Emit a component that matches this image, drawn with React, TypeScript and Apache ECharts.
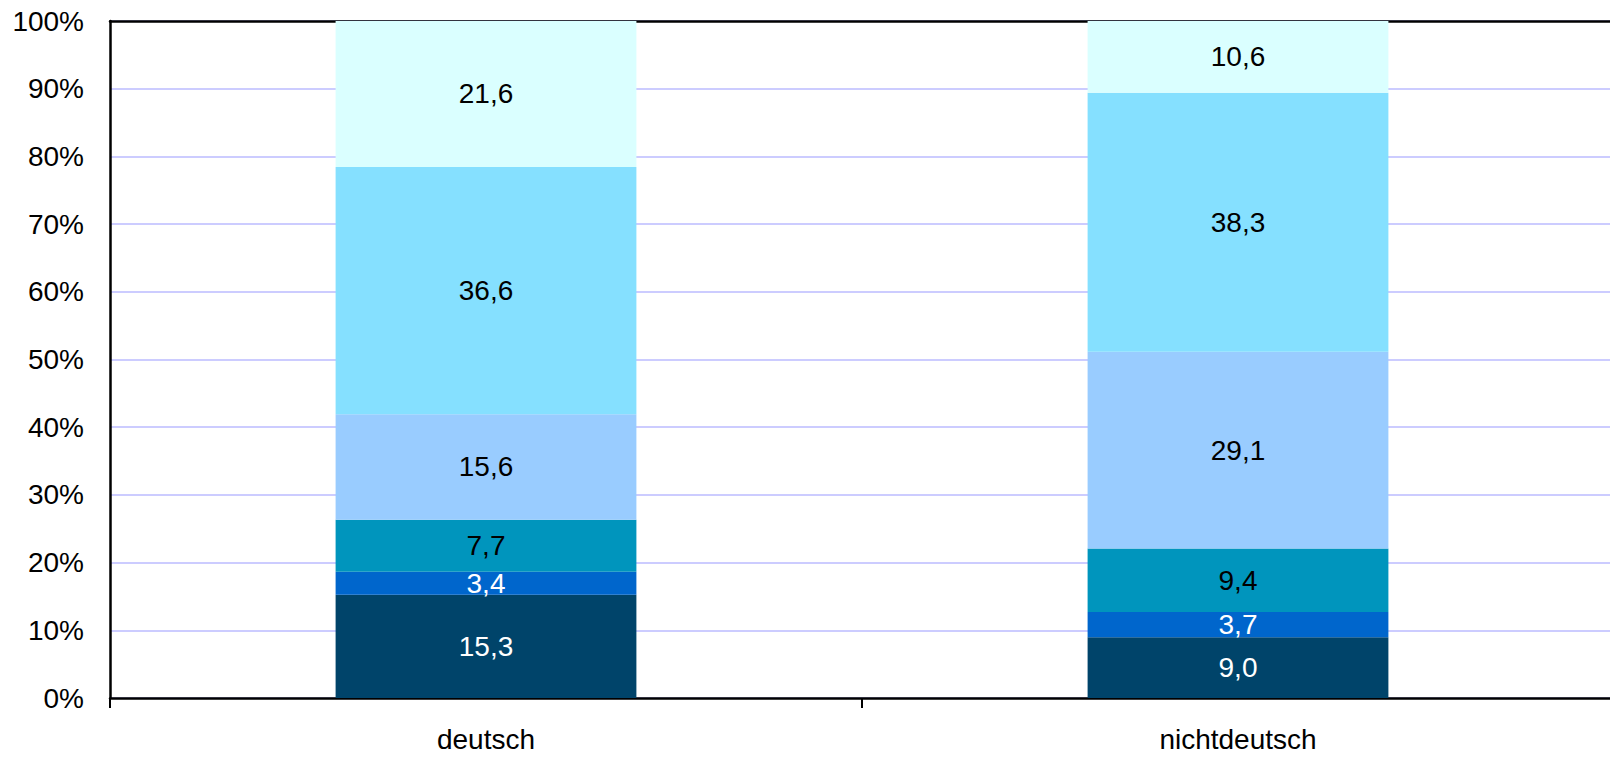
import React, { useEffect, useRef } from "react";
import * as echarts from "echarts";

// Categories on the x axis
const categories = ["deutsch", "nichtdeutsch"];

// Segment names (bottom to top) and their shares per category
const segmentNames = ["Stufe 1", "Stufe 2", "Stufe 3", "Stufe 4", "Stufe 5", "Stufe 6"];
const deutschValues = [15.3, 3.4, 7.7, 15.6, 36.6, 21.6];
const nichtdeutschValues = [9.0, 3.7, 9.4, 29.1, 38.3, 10.6];

// Y axis tick values
const yTicks = [0, 10, 20, 30, 40, 50, 60, 70, 80, 90, 100];

const segmentColors = ["#00446A", "#0066CC", "#0095BD", "#99CCFF", "#85E0FF", "#DAFFFF"];
const labelColors = ["#FFFFFF", "#FFFFFF", "#000000", "#000000", "#000000", "#000000"];

const FONT = '"Liberation Sans", Arial, sans-serif';

const fmt = (v: number) => v.toFixed(1).replace(".", ",");

export default function App() {
  const ref = useRef<HTMLDivElement>(null);

  useEffect(() => {
    document.body.style.margin = "0";
    document.body.style.overflow = "hidden";
    document.documentElement.style.overflow = "hidden";
    if (!ref.current) return;
    const chart = echarts.init(ref.current, undefined, { renderer: "svg" });

    const rows = [deutschValues, nichtdeutschValues];
    const totals = rows.map((r) => r.reduce((a, b) => a + b, 0));

    // 100% stacked: each segment is drawn as its share of the column total,
    // labelled with its stated value
    const series = segmentNames.map((name, i) => ({
      name,
      type: "bar",
      stack: "total",
      barWidth: "40%",
      itemStyle: { color: segmentColors[i] },
      label: {
        show: true,
        position: "inside",
        color: labelColors[i],
        fontFamily: FONT,
        fontSize: 28,
        formatter: (p: any) => fmt(rows[p.dataIndex][i]),
      },
      data: rows.map((r, c) => (r[i] / totals[c]) * 100),
    }));

    chart.setOption({
      animation: false,
      grid: { left: 110, right: 0, top: 21, bottom: 60 },
      xAxis: [
        {
          type: "category",
          data: categories,
          axisLine: { lineStyle: { color: "#000", width: 2.5 } },
          axisTick: { show: true, length: 10, lineStyle: { color: "#000", width: 2 } },
          axisLabel: { color: "#000", fontFamily: FONT, fontSize: 28, margin: 27 },
        },
        {
          type: "category",
          position: "top",
          data: categories,
          axisLine: { lineStyle: { color: "#000", width: 2.5 } },
          axisTick: { show: false },
          axisLabel: { show: false },
        },
      ],
      yAxis: {
        type: "value",
        min: yTicks[0],
        max: yTicks[yTicks.length - 1],
        interval: yTicks[1] - yTicks[0],
        axisLine: { show: true, lineStyle: { color: "#000", width: 2.5 } },
        axisTick: { show: false },
        axisLabel: {
          color: "#000",
          fontFamily: FONT,
          fontSize: 28,
          margin: 26,
          formatter: "{value}%",
        },
        splitLine: { lineStyle: { color: "#CCCCFF", width: 2 } },
      },
      series,
    });

    return () => chart.dispose();
  }, []);

  // the plot area runs a few pixels past the right edge of the window
  return <div ref={ref} style={{ width: 1614, height: 758 }} />;
}
